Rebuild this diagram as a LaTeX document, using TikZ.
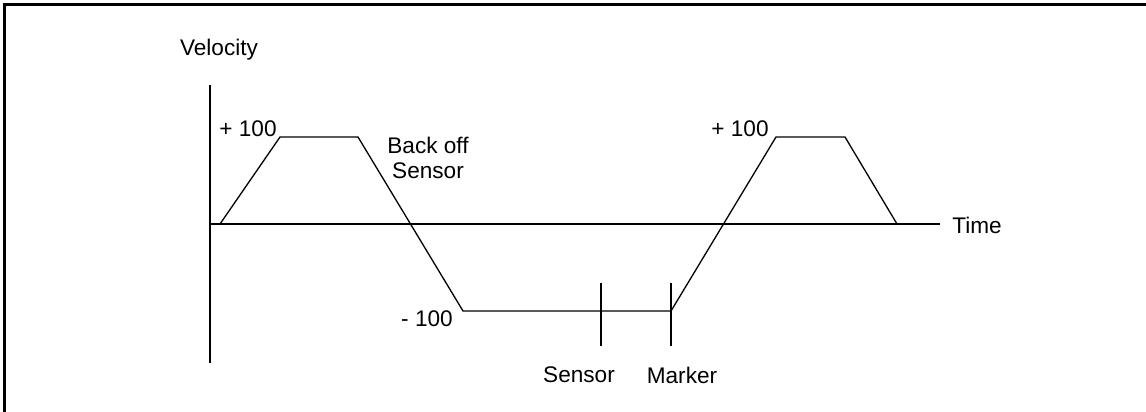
\documentclass[tikz,border=0pt]{standalone}
\usepackage{fontspec}
\setmainfont{Liberation Sans}
\begin{document}
\begin{tikzpicture}[x=1pt,y=-1pt,
  lbl/.style={inner sep=0pt,font=\fontsize{22.6}{25}\selectfont},
  axis/.style={line width=2pt},
  profile/.style={line width=1.3pt,line join=miter},
  tick/.style={line width=2pt},
  frame/.style={line width=3.5pt}]
\useasboundingbox (0,0) rectangle (1146,412);
% open frame: left and top edges
\draw[frame] (4.5,412) -- (4.5,4.5) -- (1146,4.5);
% axes
\coordinate (vtop) at (210,85);
\coordinate (vbot) at (210,363);
\coordinate (o) at (210,224);
\coordinate (tend) at (940,224);
\draw[axis] (vtop) -- (vbot);
\draw[axis] (o) -- (tend);
% velocity profile
\coordinate (p0) at (220,224);
\coordinate (p1) at (280,137);
\coordinate (p2) at (358,137);
\coordinate (p3) at (463,311);
\coordinate (p4) at (671,311);
\coordinate (p5) at (776,137);
\coordinate (p6) at (845,137);
\coordinate (p7) at (897,224);
\draw[profile] (p0) -- (p1) -- (p2) -- (p3) -- (p4) -- (p5) -- (p6) -- (p7);
% sensor and marker ticks
\coordinate (s1) at (601,283);
\coordinate (s2) at (601,346);
\coordinate (m1) at (671,283);
\coordinate (m2) at (671,346);
\draw[tick] (s1) -- (s2);
\draw[tick] (m1) -- (m2);
% labels
\node[lbl] (vel) at (219,50) {Velocity};
\node[lbl] (time) at (977,225) {Time};
\node[lbl] (plusA) at (248,129) {+ 100};
\node[lbl] (plusB) at (740,129) {+ 100};
\node[lbl] (minus) at (427,319) {- 100};
\node[lbl,align=center] (backoff) at (428,158) {Back off\\Sensor};
\node[lbl] (sens) at (579,375) {Sensor};
\node[lbl] (mark) at (682,375) {Marker};
\end{tikzpicture}
\end{document}
